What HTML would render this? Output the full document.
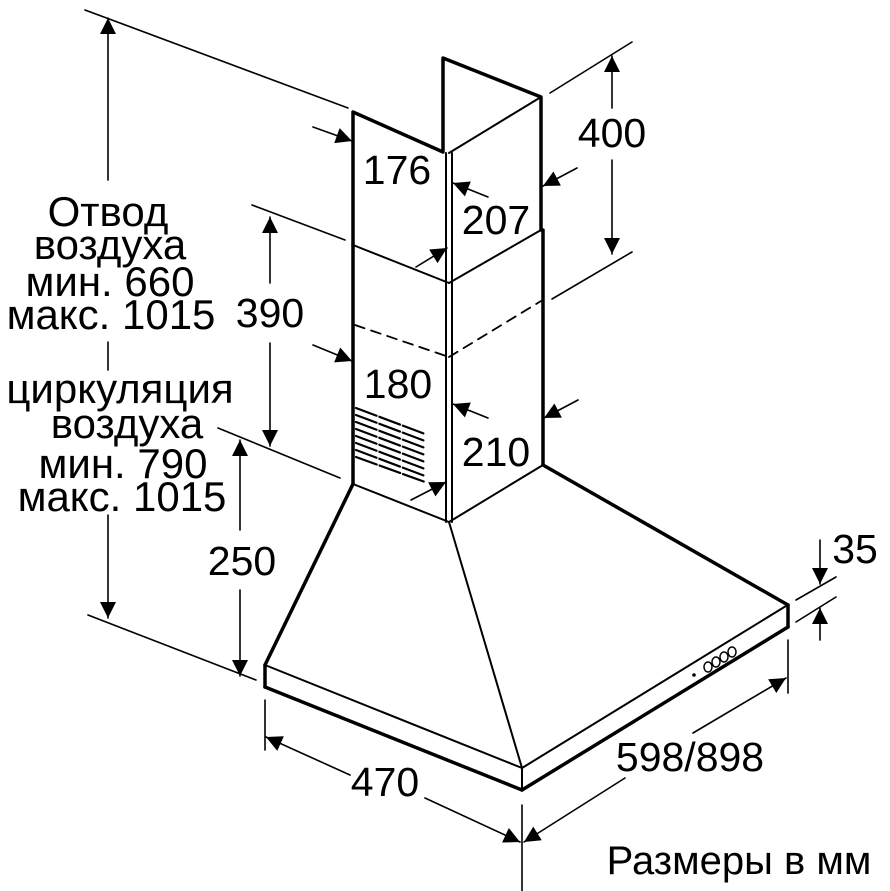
<!DOCTYPE html>
<html><head><meta charset="utf-8"><style>
html,body{margin:0;padding:0;background:#fff;}
svg{display:block;}
text{font-family:"Liberation Sans",Arial,sans-serif;fill:#000;}
</style></head><body>
<svg width="890" height="891" viewBox="0 0 890 891" xmlns="http://www.w3.org/2000/svg">
<defs>
<marker id="b" viewBox="0 0 10 10" refX="10" refY="5" markerWidth="22" markerHeight="16" markerUnits="userSpaceOnUse" orient="auto-start-reverse">
<path d="M0,0 L10,5 L0,10 z" fill="#000"/></marker>
</defs>
<g stroke="#000" fill="none" stroke-linecap="round" stroke-linejoin="round">
<g stroke-width="1.6">
<line x1="85" y1="10" x2="348" y2="108"/>
<line x1="550" y1="93" x2="632" y2="42"/>
<line x1="552" y1="299" x2="632" y2="252"/>
<line x1="252" y1="205" x2="345" y2="240"/>
<line x1="218" y1="428" x2="340" y2="478"/>
<line x1="88" y1="615" x2="256" y2="680"/>
<line x1="265" y1="700" x2="265" y2="750"/>
<line x1="522" y1="805" x2="522" y2="891"/>
<line x1="788" y1="640" x2="788" y2="693"/>
<line x1="796" y1="600" x2="836" y2="577"/>
<line x1="796" y1="622" x2="836" y2="597"/>
</g>
<g stroke-width="1.6">
<line x1="108" y1="18" x2="108" y2="180" marker-start="url(#b)"/>
<line x1="108" y1="342" x2="108" y2="370"/>
<line x1="108" y1="515" x2="108" y2="618" marker-end="url(#b)"/>
<line x1="270" y1="217" x2="270" y2="283" marker-start="url(#b)"/>
<line x1="270" y1="343" x2="270" y2="446" marker-end="url(#b)"/>
<line x1="240" y1="440" x2="240" y2="530" marker-start="url(#b)"/>
<line x1="240" y1="590" x2="240" y2="676" marker-end="url(#b)"/>
<line x1="612" y1="56" x2="612" y2="108" marker-start="url(#b)"/>
<line x1="612" y1="160" x2="612" y2="254" marker-end="url(#b)"/>
<line x1="820" y1="540" x2="820" y2="584" marker-end="url(#b)"/>
<line x1="820" y1="640" x2="820" y2="608" marker-end="url(#b)"/>
<line x1="350" y1="775" x2="266" y2="737" marker-end="url(#b)"/>
<line x1="425" y1="798" x2="520" y2="842" marker-end="url(#b)"/>
<line x1="625" y1="778" x2="524" y2="842" marker-end="url(#b)"/>
<line x1="693" y1="733" x2="786" y2="678" marker-end="url(#b)"/>
<line x1="313" y1="127" x2="352" y2="141" marker-end="url(#b)"/>
<line x1="488" y1="197" x2="453" y2="183" marker-end="url(#b)"/>
<line x1="416" y1="267" x2="447" y2="248" marker-end="url(#b)"/>
<line x1="577" y1="168" x2="543" y2="186" marker-end="url(#b)"/>
<line x1="313" y1="345" x2="352" y2="361" marker-end="url(#b)"/>
<line x1="488" y1="418" x2="453" y2="404" marker-end="url(#b)"/>
<line x1="411" y1="500" x2="446" y2="482" marker-end="url(#b)"/>
<line x1="578" y1="400" x2="544" y2="418" marker-end="url(#b)"/>
</g>
<g stroke-width="3.5">
<polyline points="353,245 353,112 443,152"/>
<polyline points="443,150 443,58 541,97 541,230"/>
<line x1="449" y1="153" x2="541" y2="97" stroke-width="2"/>
<line x1="446" y1="153" x2="446" y2="522" stroke-width="2"/>
<line x1="452" y1="153" x2="452" y2="522" stroke-width="2"/>
<line x1="353" y1="245" x2="449" y2="283" stroke-width="2"/>
<line x1="449" y1="283" x2="541" y2="230" stroke-width="2"/>
<line x1="353" y1="245" x2="353" y2="484"/>
<line x1="543" y1="230" x2="543" y2="465"/>
<line x1="353" y1="484" x2="449" y2="522" stroke-width="2"/>
<line x1="449" y1="522" x2="543" y2="465" stroke-width="2"/>
</g>
<g stroke-width="1.8" stroke-dasharray="10,7">
<line x1="355" y1="325" x2="449" y2="357"/>
<line x1="449" y1="357" x2="541" y2="301"/>
</g>
<g stroke-width="2.2" stroke-dasharray="22,3">
<line x1="356" y1="408" x2="425" y2="434"/>
<line x1="356" y1="415" x2="425" y2="441"/>
<line x1="356" y1="422" x2="425" y2="448"/>
<line x1="356" y1="429" x2="425" y2="455"/>
<line x1="356" y1="436" x2="425" y2="462"/>
<line x1="356" y1="443" x2="425" y2="469"/>
<line x1="356" y1="450" x2="425" y2="476"/>
<line x1="356" y1="457" x2="425" y2="482"/>
</g>
<g stroke-width="3.5">
<line x1="353" y1="484" x2="265" y2="665"/>
<line x1="543" y1="465" x2="788" y2="605"/>
<line x1="265" y1="665" x2="265" y2="687"/>
<line x1="265" y1="687" x2="522" y2="790"/>
<line x1="522" y1="790" x2="788" y2="627"/>
<line x1="788" y1="605" x2="788" y2="627"/>
</g>
<g stroke-width="2">
<line x1="449" y1="522" x2="522" y2="768"/>
<line x1="265" y1="665" x2="522" y2="768"/>
<line x1="522" y1="768" x2="786" y2="606"/>
<line x1="522" y1="768" x2="522" y2="790"/>
</g>
<circle cx="694" cy="675" r="1.8" fill="#000" stroke="none"/>
<g stroke-width="1.5">
<ellipse cx="708" cy="667" rx="4" ry="5"/>
<ellipse cx="716" cy="662" rx="4" ry="5"/>
<ellipse cx="724" cy="657" rx="4" ry="5"/>
<ellipse cx="732" cy="652" rx="4" ry="5"/>
</g>
</g>
<g font-size="42" text-anchor="middle">
<text x="108" y="226">Отвод</text>
<text x="110" y="259">воздуха</text>
<text x="110" y="296">мин. 660</text>
<text x="111" y="329">макс. 1015</text>
<text x="120" y="403">циркуляция</text>
<text x="127" y="438">воздуха</text>
<text x="123" y="478">мин. 790</text>
<text x="122" y="511">макс. 1015</text>
</g>
<g font-size="41" text-anchor="middle">
<text x="270" y="327">390</text>
<text x="242" y="575">250</text>
<text x="612" y="147">400</text>
<text x="397" y="184">176</text>
<text x="496" y="234">207</text>
<text x="398" y="398">180</text>
<text x="496" y="466">210</text>
<text x="385" y="796">470</text>
<text x="690" y="771">598/898</text>
<text x="855" y="563">35</text>
<text x="739" y="874" font-size="40">Размеры в мм</text>
</g>
</svg>
</body></html>
